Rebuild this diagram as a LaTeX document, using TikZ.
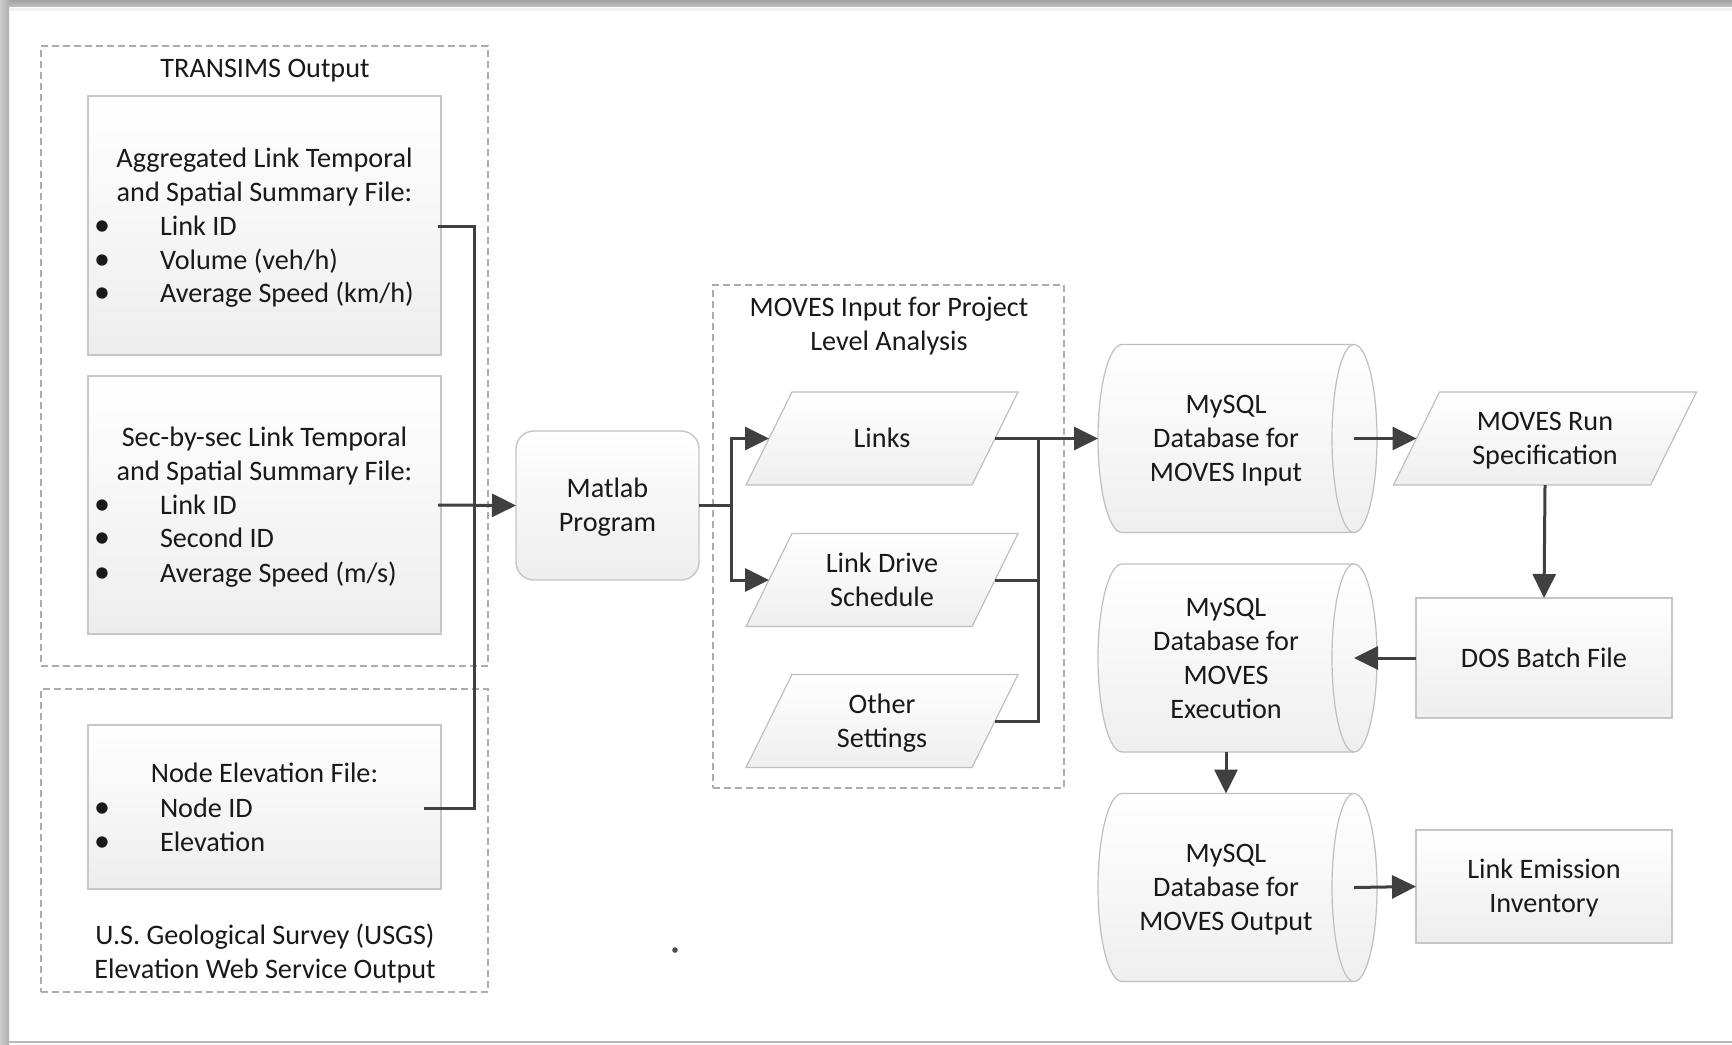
\documentclass[tikz,border=0pt]{standalone}
\usepackage{fontspec}
\setmainfont{Carlito}
\usetikzlibrary{arrows.meta,backgrounds}
\newcommand\parashape[1]{%
  \path[shapefill] ([xshift=11.5pt]#1.north west) -- ([xshift=11.5pt]#1.north east)
    -- ([xshift=-11.5pt]#1.south east) -- ([xshift=-11.5pt]#1.south west) -- cycle;}
\newcommand\cylshape[1]{%
  \path[shapefill] ([xshift=12pt]#1.north west) -- (#1.north east)
    .. controls ([xshift=6.35pt]#1.north east) and ([xshift=11.5pt,yshift=25.96pt]#1.east) .. ([xshift=11.5pt]#1.east)
    .. controls ([xshift=11.5pt,yshift=-25.96pt]#1.east) and ([xshift=6.35pt]#1.south east) .. (#1.south east)
    -- ([xshift=12pt]#1.south west)
    .. controls ([xshift=5.37pt]#1.south west) and ([yshift=-25.96pt]#1.west) .. (#1.west)
    .. controls ([yshift=25.96pt]#1.west) and ([xshift=5.37pt]#1.north west) .. ([xshift=12pt]#1.north west) -- cycle;
  \draw[shapeline] (#1.north east)
    .. controls ([xshift=-6.1pt]#1.north east) and ([xshift=-11pt,yshift=25.96pt]#1.east) .. ([xshift=-11pt]#1.east)
    .. controls ([xshift=-11pt,yshift=-25.96pt]#1.east) and ([xshift=-6.1pt]#1.south east) .. (#1.south east);}
\begin{document}
\begin{tikzpicture}[x=0.5pt,y=-0.5pt,
  every node/.style={font=\fontsize{14.1}{17}\selectfont, text=black!90, inner sep=0pt, outer sep=0pt},
  txt/.style={align=center, text height=9pt, text depth=0pt},
  l2/.style={align=center, text height=26pt, text depth=0pt},
  l3/.style={align=center, text height=43pt, text depth=0pt},
  l4/.style={align=center, text height=60pt, text depth=0pt},
  item/.style={anchor=west, text height=9pt, text depth=0pt},
  bul/.style={text height=9pt, text depth=0pt, font=\fontsize{16}{17}\selectfont},
  filebox/.style={draw=gray!45, line width=0.7pt, top color=white, bottom color=gray!14},
  group/.style={draw=gray!65, dash pattern=on 3.5pt off 2pt, line width=0.7pt},
  shapefill/.style={draw=gray!50, line width=0.6pt, top color=white, bottom color=gray!13},
  shapeline/.style={draw=gray!50, line width=0.6pt},
  conn/.style={draw=black!75, line width=1.5pt},
  arr/.style={conn, -{Triangle[length=12pt,width=11.5pt]}},
  ghost/.style={minimum height=46.5pt}
]
\useasboundingbox (0,0) rectangle (1732,1044);

% dashed groups
\node[group, minimum width=223.5pt, minimum height=310pt] (g1) at (264.5,356) {};
\node[group, minimum width=223.5pt, minimum height=151.5pt] (g2) at (264.5,840.5) {};
\node[group, minimum width=175.5pt, minimum height=251.5pt] (g3) at (888.5,536.5) {};
\node[txt] (t1) at (265,68) {TRANSIMS Output};
\node[l2] (t2) at (265,952.5) {U.S. Geological Survey (USGS)\\Elevation Web Service Output};
\node[l2] (t3) at (889,324.5) {MOVES Input for Project\\Level Analysis};

% file boxes
\node[filebox, minimum width=176.5pt, minimum height=129.5pt] (f1) at (264.5,225.5) {};
\node[filebox, minimum width=176.5pt, minimum height=129pt] (f2) at (264.5,505) {};
\node[filebox, minimum width=176.5pt, minimum height=82pt] (f3) at (264.5,807) {};

\node[l2] (h1) at (264.5,175) {Aggregated Link Temporal\\and Spatial Summary File:};
\node[bul] (b11) at (102,226) {•};
\node[bul] (b12) at (102,260) {•};
\node[bul] (b13) at (102,293) {•};
\node[item] (i11) at (160,226) {Link ID};
\node[item] (i12) at (160,260) {Volume (veh/h)};
\node[item] (i13) at (160,293) {Average Speed (km/h)};

\node[l2] (h2) at (264.5,454) {Sec-by-sec Link Temporal\\and Spatial Summary File:};
\node[bul] (b21) at (102,505) {•};
\node[bul] (b22) at (102,538) {•};
\node[bul] (b23) at (102,573) {•};
\node[item] (i21) at (160,505) {Link ID};
\node[item] (i22) at (160,538) {Second ID};
\node[item] (i23) at (160,573) {Average Speed (m/s)};

\node[txt] (h3) at (264.5,773) {Node Elevation File:};
\node[bul] (b31) at (102,808) {•};
\node[bul] (b32) at (102,842) {•};
\node[item] (i31) at (160,808) {Node ID};
\node[item] (i32) at (160,842) {Elevation};

% matlab
\node[filebox, rounded corners=9pt, minimum width=91.5pt, minimum height=74.5pt, l2] (matlab) at (607.5,505.5) {Matlab\\Program};

% parallelograms (data)
\node[ghost, txt, minimum width=113pt] (links) at (882,438.5) {Links};
\node[ghost, l2, minimum width=113pt] (drive) at (882,580) {Link Drive\\Schedule};
\node[ghost, l2, minimum width=113pt] (other) at (882,721) {Other\\Settings};
\node[ghost, l2, minimum width=128.5pt] (rs) at (1545,438.5) {MOVES Run\\Specification};

% cylinders
\node[l3, minimum width=128pt, minimum height=94pt] (c1) at (1226,438.5) {MySQL\\Database for\\MOVES Input};
\node[l4, minimum width=128pt, minimum height=94pt] (c2) at (1226,658) {MySQL\\Database for\\MOVES\\Execution};
\node[l3, minimum width=128pt, minimum height=94pt] (c3) at (1226,887.5) {MySQL\\Database for\\MOVES Output};

% rectangles right
\node[filebox, txt, minimum width=128pt, minimum height=60pt] (dos) at (1544,658) {DOS Batch File};
\node[filebox, l2, minimum width=128pt, minimum height=56.5pt] (lei) at (1544,886.5) {Link Emission\\Inventory};

\begin{pgfonlayer}{background}
  % outer frame
  \fill[white] (0,0) rectangle (1732,1044);
  \fill[top color=gray!72, bottom color=gray!52] (0,0) rectangle (1732,6);
  \fill[left color=gray!40, right color=gray!62] (0,0) rectangle (9,1044);
  \fill[gray!10] (9,8) rectangle (1732,11);
  \draw[gray!55, line width=1pt] (9,1042) -- (1732,1042);
  \parashape{links}
  \parashape{drive}
  \parashape{other}
  \parashape{rs}
  \cylshape{c1}
  \cylshape{c2}
  \cylshape{c3}
\end{pgfonlayer}

% small dot
\fill[black!70] (675,950) circle (1.4pt);

% connectors
\coordinate (jl) at (474,505);
\coordinate (jm) at (731,505.5);
\coordinate (jr) at (1038,438.5);
\draw[conn] ([xshift=-1.5pt]f1.east |- i11) -| (jl);
\draw[conn] ([xshift=-8.5pt]f3.east |- i31) -| (jl);
\draw[arr] ([xshift=-1.5pt]f2.east |- i21) -- (matlab.west);
\draw[conn] (matlab.east) -- (jm);
\draw[arr] (jm) |- (links.west);
\draw[arr] (jm) |- (drive.west);
\draw[conn] (drive.east) -| (jr);
\draw[conn] (other.east) -| (jr);
\draw[arr] (links.east) -- (c1.west);
\draw[arr] (c1.east) -- (rs.west);
\draw[arr] (rs.south) -- (dos.north);
\draw[arr] (dos.west) -- (c2.east);
\draw[arr] (c2.south) -- (c3.north);
\draw[arr] (c3.east) -- (lei.west);
\end{tikzpicture}
\end{document}
